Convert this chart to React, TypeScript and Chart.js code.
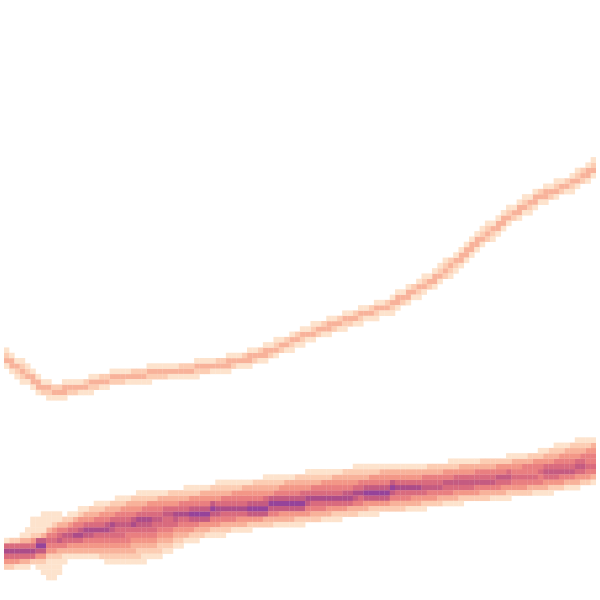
import React, { useEffect, useRef } from "react";
import { Chart, registerables } from "chart.js";

Chart.register(...registerables);

// Domain of the picture (x: 0..600 left→right, y: 0..600 top→bottom)
const DOMAIN = 600;
const GRID = 112; // histogram bins per side

// Colour levels (palest → darkest)
const palette = [
  "#fde3cd",
  "#fccdb3",
  "#f8b29a",
  "#f39787",
  "#e97f80",
  "#d96b7e",
  "#c45b81",
  "#ab4c89",
  "#95439a",
];

// Upper thin curve (centre line)
const upperX = [0, 8, 15, 22, 28, 34, 40, 55, 70, 86, 109, 145, 191, 230, 256, 283, 302, 329, 360, 390, 400, 420, 440, 457, 470, 481, 495, 508, 525, 540, 565, 576, 600];
const upperY = [359, 364, 369, 375, 380, 386, 390, 392, 390, 386, 380, 375, 370, 364, 357, 346, 337, 327, 316, 306, 300, 289, 276, 262, 250, 240, 229, 218, 207, 197, 186, 181, 166];
const upperPeak = 3;

// Lower dense band
const bandX = [0, 20, 40, 46, 60, 80, 100, 120, 140, 160, 180, 200, 230, 260, 290, 320, 350, 380, 410, 440, 470, 500, 530, 560, 580, 600];
const bandCore = [557, 554, 550, 543, 541, 536, 532, 528, 524, 520, 517, 515, 512, 510, 505, 502, 499, 494, 491, 488, 485, 482, 478, 474, 471, 468];
const bandTop = [543, 538, 532, 526, 520, 510, 504, 499, 494, 492, 491, 487, 483, 480, 476, 472, 469, 466, 466, 465, 461, 459, 455, 447, 442, 437];
const bandBottom = [575, 572, 568, 566, 562, 562, 565, 567, 566, 560, 549, 543, 537, 532, 530, 526, 521, 517, 515, 510, 506, 503, 499, 495, 491, 487];
const bandPeak = [8, 8, 9, 6, 7, 8, 8, 7, 8, 7, 8, 9, 8, 9, 9, 8, 8, 9, 8, 7, 7, 7, 6, 7, 7, 6];

// Pale vertical spread near the left
const blobX = [22, 30, 38, 48, 58, 66, 72];
const blobTop = [537, 521, 516, 512, 516, 524, 532];
const blobBottom = [546, 560, 578, 585, 574, 558, 544];

function at(xs: number[], ys: number[], x: number): number {
  if (x <= xs[0]) return ys[0];
  for (let i = 1; i < xs.length; i++) {
    if (x <= xs[i]) {
      const f = (x - xs[i - 1]) / (xs[i] - xs[i - 1]);
      return ys[i - 1] + f * (ys[i] - ys[i - 1]);
    }
  }
  return ys[ys.length - 1];
}

function buildCells() {
  const cell = DOMAIN / GRID;
  const groups: { x: number; y: number }[][] = palette.map(() => []);
  for (let i = 0; i < GRID; i++) {
    const x = (i + 0.5) * cell;
    const yc = at(upperX, upperY, x);
    const s = (at(upperX, upperY, x + 2) - at(upperX, upperY, x - 2)) / 4;
    const top = at(bandX, bandTop, x);
    const core = at(bandX, bandCore, x);
    const bot = at(bandX, bandBottom, x);
    const peak = Math.round(at(bandX, bandPeak, x));
    const inBlob = x >= blobX[0] && x <= blobX[blobX.length - 1];
    const bTop = at(blobX, blobTop, x);
    const bBot = at(blobX, blobBottom, x);
    for (let j = 0; j < GRID; j++) {
      const y = (j + 0.5) * cell;
      let lv = 0;
      const d = Math.abs(y - yc) / Math.sqrt(1 + s * s);
      if (d < 2.8) lv = upperPeak;
      else if (d < 4.8) lv = 2;
      else if (d < 8.3) lv = 1;
      if (y >= top && y <= bot) {
        const t = y < core ? (y - top) / (core - top) : (bot - y) / (bot - core);
        let b = Math.min(peak - 1, 1 + Math.floor(t * 7));
        const dc = Math.abs(y - core);
        if (dc <= cell / 2) b = peak;
        else if (dc <= cell * 1.5) b = Math.max(b, peak - 2);
        lv = Math.max(lv, b);
      }
      if (inBlob && y >= bTop && y <= bBot) lv = Math.max(lv, 1);
      if (lv > 0) groups[lv - 1].push({ x, y });
    }
  }
  return groups;
}

export default function App() {
  const ref = useRef<HTMLCanvasElement | null>(null);
  useEffect(() => {
    document.body.style.margin = "0";
    const canvas = ref.current;
    if (!canvas) return;
    const groups = buildCells();
    const r = (DOMAIN / GRID) / Math.SQRT2 + 0.15;
    const chart = new Chart(canvas, {
      type: "scatter",
      data: {
        datasets: groups.map((pts, k) => ({
          label: "level " + (k + 1),
          data: pts,
          pointStyle: "rect",
          pointRadius: r,
          pointHoverRadius: r,
          borderWidth: 0,
          pointBorderWidth: 0,
          backgroundColor: palette[k],
          pointBackgroundColor: palette[k],
        })),
      },
      options: {
        animation: false,
        responsive: false,
        maintainAspectRatio: false,
        layout: { padding: 0 },
        events: [],
        plugins: { legend: { display: false }, tooltip: { enabled: false } },
        scales: {
          x: { type: "linear", min: 0, max: DOMAIN, display: false },
          y: { type: "linear", min: 0, max: DOMAIN, reverse: true, display: false },
        },
      },
    });
    return () => chart.destroy();
  }, []);
  return (
    <div style={{ width: 600, height: 600, background: "#ffffff" }}>
      <canvas ref={ref} width={600} height={600} style={{ display: "block" }} />
    </div>
  );
}
